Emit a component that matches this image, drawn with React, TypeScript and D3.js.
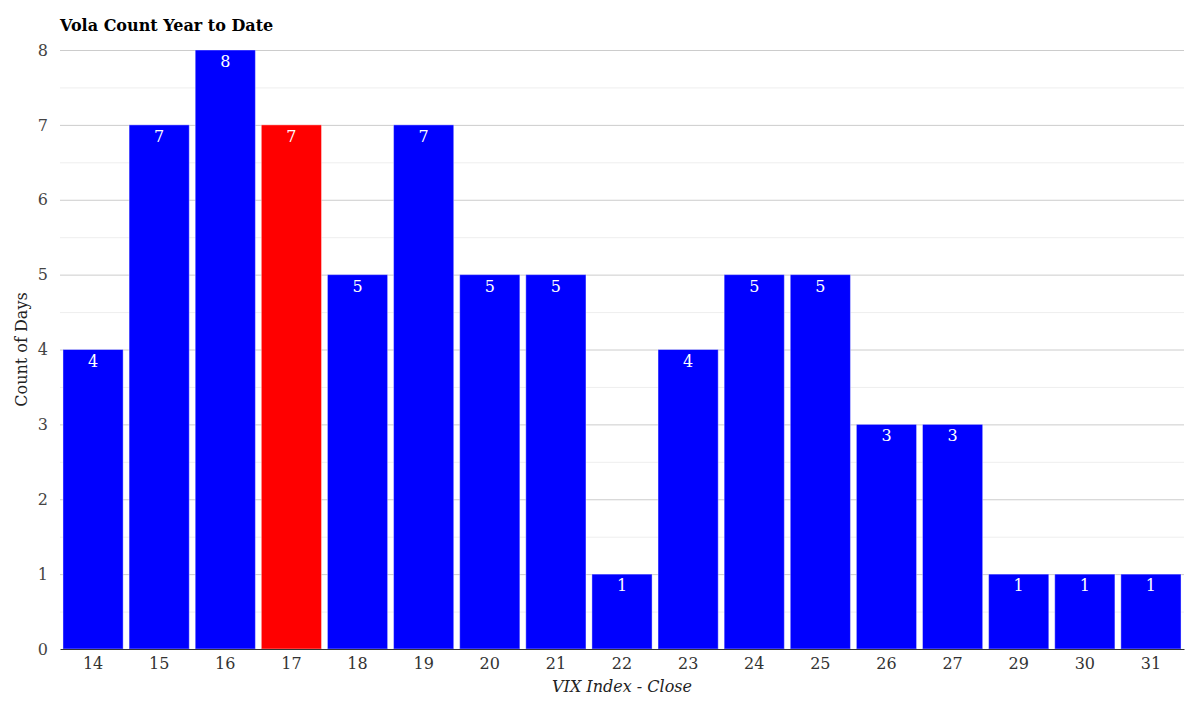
import React, { useEffect, useRef } from "react";
import * as d3 from "d3";

const categories = ["14", "15", "16", "17", "18", "19", "20", "21", "22", "23", "24", "25", "26", "27", "29", "30", "31"];
const counts = [4, 7, 8, 7, 5, 7, 5, 5, 1, 4, 5, 5, 3, 3, 1, 1, 1];
const highlight = "17";
const yTicks = [0, 1, 2, 3, 4, 5, 6, 7, 8];

const width = 1200;
const height = 707;
const margin = { top: 50, right: 16, bottom: 58, left: 60 };
const font = "'DejaVu Serif', serif";

const App: React.FC = () => {
  const svgRef = useRef<SVGSVGElement>(null);

  useEffect(() => {
    if (!svgRef.current) return;
    d3.select(svgRef.current).selectAll("*").remove();

    const svg = d3.select(svgRef.current).attr("width", width).attr("height", height);
    const innerWidth = width - margin.left - margin.right;
    const innerHeight = height - margin.top - margin.bottom;

    const x = d3.scaleBand().domain(categories).range([0, innerWidth]).paddingInner(0.09).paddingOuter(0.045);
    const y = d3.scaleLinear().domain([0, 8]).range([innerHeight, 0]);

    const g = svg.append("g").attr("transform", `translate(${margin.left},${margin.top})`);

    // minor grid
    g.append("g")
      .selectAll("line")
      .data(d3.range(0.5, 8, 1))
      .enter()
      .append("line")
      .attr("x1", 0)
      .attr("x2", innerWidth)
      .attr("y1", (d) => y(d) + 0.5)
      .attr("y2", (d) => y(d) + 0.5)
      .attr("stroke", "#eeeeee");

    // major grid
    g.append("g")
      .selectAll("line")
      .data(yTicks.slice(1))
      .enter()
      .append("line")
      .attr("x1", 0)
      .attr("x2", innerWidth)
      .attr("y1", (d) => y(d) + 0.5)
      .attr("y2", (d) => y(d) + 0.5)
      .attr("stroke", "#cccccc");

    // bars
    g.selectAll("rect.bar")
      .data(categories)
      .enter()
      .append("rect")
      .attr("class", "bar")
      .attr("x", (d) => x(d)!)
      .attr("y", (_, i) => y(counts[i]))
      .attr("width", x.bandwidth())
      .attr("height", (_, i) => innerHeight - y(counts[i]))
      .attr("fill", (d) => (d === highlight ? "#ff0000" : "#0000ff"))
      .attr("stroke", "rgba(255,255,255,0.4)")
      .attr("stroke-width", 1);

    // value labels
    g.selectAll("text.val")
      .data(categories)
      .enter()
      .append("text")
      .attr("class", "val")
      .attr("x", (d) => x(d)! + x.bandwidth() / 2)
      .attr("y", (_, i) => y(counts[i]) + 17)
      .attr("text-anchor", "middle")
      .attr("fill", "#ffffff")
      .style("font-family", font)
      .style("font-size", "16px")
      .text((_, i) => counts[i]);

    // x axis
    const xAxis = g
      .append("g")
      .attr("transform", `translate(0,${innerHeight})`)
      .call(d3.axisBottom(x).tickSize(0).tickPadding(9));
    xAxis.select(".domain").attr("stroke", "#333333").attr("stroke-width", 1);
    xAxis
      .selectAll("text")
      .attr("fill", "#333333")
      .style("font-family", font)
      .style("font-size", "16px");

    // y axis
    const yAxis = g.append("g").call(d3.axisLeft(y).tickValues(yTicks).tickSize(0).tickPadding(12));
    yAxis.select(".domain").remove();
    yAxis
      .selectAll("text")
      .attr("fill", "#444444")
      .style("font-family", font)
      .style("font-size", "16px");

    // title
    svg
      .append("text")
      .attr("x", margin.left)
      .attr("y", 31)
      .style("font-family", font)
      .style("font-size", "16px")
      .style("font-weight", "bold")
      .attr("fill", "#000000")
      .text("Vola Count Year to Date");

    // x label
    svg
      .append("text")
      .attr("x", margin.left + innerWidth / 2)
      .attr("y", 692)
      .attr("text-anchor", "middle")
      .style("font-family", font)
      .style("font-size", "16px")
      .style("font-style", "italic")
      .attr("fill", "#222222")
      .text("VIX Index - Close");

    // y label
    svg
      .append("text")
      .attr("transform", "rotate(-90)")
      .attr("x", -(margin.top + innerHeight / 2))
      .attr("y", 27)
      .attr("text-anchor", "middle")
      .style("font-family", font)
      .style("font-size", "16px")
      .attr("fill", "#222222")
      .text("Count of Days");
  }, []);

  return (
    <div style={{ position: "absolute", left: 0, top: 0 }}>
      <svg ref={svgRef} style={{ display: "block" }} />
    </div>
  );
};

export default App;
